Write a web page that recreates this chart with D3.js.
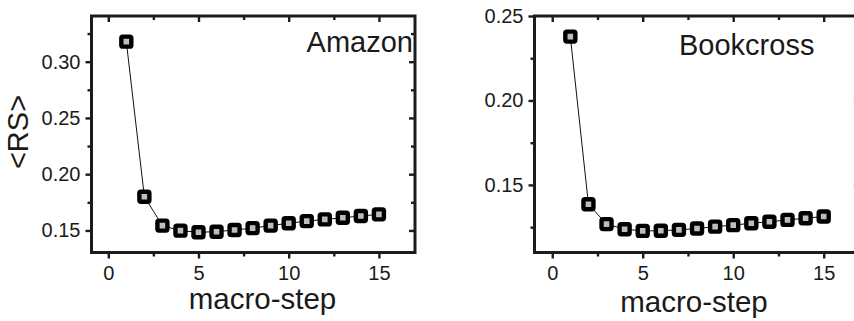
<!DOCTYPE html>
<html>
<head>
<meta charset="utf-8">
<script src="https://cdn.jsdelivr.net/npm/d3@7"></script>
<style>
  html, body { margin: 0; padding: 0; background: #fff; }
  svg { display: block; }
  text { font-family: "Liberation Sans", Arial, sans-serif; fill: #1a1a1a; }
</style>
</head>
<body>
<svg id="chart" width="854" height="321"></svg>
<script>
// macro-step index
const steps = [1, 2, 3, 4, 5, 6, 7, 8, 9, 10, 11, 12, 13, 14, 15];

// mean <RS> per macro-step
const amazonRS = [0.3178, 0.1800, 0.1543, 0.1498, 0.1484, 0.1489, 0.1504, 0.1521,
                  0.1543, 0.1564, 0.1583, 0.1598, 0.1613, 0.1628, 0.1643];
const bookcrossRS = [0.2378, 0.1386, 0.1268, 0.1238, 0.1228, 0.1229, 0.1234, 0.1242,
                     0.1253, 0.1262, 0.1273, 0.1282, 0.1293, 0.1303, 0.1313];

// tick values
const xMajor = [0, 5, 10, 15];
const xMinor = [2.5, 7.5, 12.5];
const amazonYMajor = [0.15, 0.20, 0.25, 0.30];
const amazonYMinor = [0.175, 0.225, 0.275, 0.325];
const bookYMajor = [0.15, 0.20, 0.25];
const bookYMinor = [0.125, 0.175, 0.225];

const svg = d3.select("#chart");
const ink = "#1c1c1c";
const fontStack = '"Liberation Sans", Arial, sans-serif';

function drawPanel(opt) {
  const x = d3.scaleLinear().domain(opt.xDomain).range([opt.left, opt.right]);
  const y = d3.scaleLinear().domain(opt.yDomain).range([opt.bottom, opt.top]);
  const g = svg.append("g");

  const styleAxis = (sel) => {
    sel.select(".domain").remove();
    sel.selectAll(".tick line").attr("stroke", ink).attr("stroke-width", 2.4);
  };
  const styleLabels = (sel) => {
    sel.attr("font-size", null).attr("font-family", null);
    sel.selectAll("text")
      .style("font-size", "20px").style("font-family", fontStack).attr("fill", ink);
  };

  // bottom axis with labels
  g.append("g").attr("transform", `translate(0,${opt.bottom})`)
    .call(d3.axisBottom(x).tickValues(xMajor).tickSize(6).tickFormat(d3.format("d")))
    .call(styleAxis)
    .call(styleLabels)
    .call(s => s.selectAll("text").attr("dy", 0).attr("y", 27.5));
  g.append("g").attr("transform", `translate(0,${opt.bottom})`)
    .call(d3.axisBottom(x).tickValues(xMinor).tickSize(4).tickFormat(""))
    .call(styleAxis);

  // top axis, ticks pointing inward
  g.append("g").attr("transform", `translate(0,${opt.top})`)
    .call(d3.axisBottom(x).tickValues(xMajor).tickSize(6).tickFormat(""))
    .call(styleAxis);
  g.append("g").attr("transform", `translate(0,${opt.top})`)
    .call(d3.axisBottom(x).tickValues(xMinor).tickSize(4).tickFormat(""))
    .call(styleAxis);

  // left axis with labels
  g.append("g").attr("transform", `translate(${opt.left},0)`)
    .call(d3.axisLeft(y).tickValues(opt.yMajor).tickSize(6).tickPadding(5).tickFormat(d3.format(".2f")))
    .call(styleAxis)
    .call(styleLabels);
  g.append("g").attr("transform", `translate(${opt.left},0)`)
    .call(d3.axisLeft(y).tickValues(opt.yMinor).tickSize(4).tickFormat(""))
    .call(styleAxis);

  // right axis, ticks pointing inward
  g.append("g").attr("transform", `translate(${opt.right},0)`)
    .call(d3.axisLeft(y).tickValues(opt.yMajor).tickSize(6).tickFormat(""))
    .call(styleAxis);
  g.append("g").attr("transform", `translate(${opt.right},0)`)
    .call(d3.axisLeft(y).tickValues(opt.yMinor).tickSize(4).tickFormat(""))
    .call(styleAxis);

  // frame
  g.append("rect")
    .attr("x", opt.left).attr("y", opt.top)
    .attr("width", opt.right - opt.left).attr("height", opt.bottom - opt.top)
    .attr("fill", "none").attr("stroke", ink).attr("stroke-width", 3);

  // connecting line
  const pts = steps.map((s, i) => [s, opt.values[i]]);
  g.append("path")
    .datum(pts)
    .attr("fill", "none").attr("stroke", "#111").attr("stroke-width", 1)
    .attr("d", d3.line().x(d => x(d[0])).y(d => y(d[1])));

  // square markers
  g.selectAll("rect.marker").data(pts).join("rect")
    .attr("class", "marker")
    .attr("x", d => x(d[0]) - 5).attr("y", d => y(d[1]) - 5)
    .attr("width", 10).attr("height", 10).attr("rx", 1.5)
    .attr("fill", "#bdbdbd").attr("stroke", "#000").attr("stroke-width", 4.4)
    .attr("stroke-linejoin", "round");

  // dataset name
  g.append("text")
    .attr("x", opt.nameX).attr("y", opt.nameY)
    .attr("text-anchor", opt.nameAnchor)
    .attr("font-size", 29)
    .text(opt.name);

  // x title
  g.append("text")
    .attr("x", opt.titleX).attr("y", opt.titleY)
    .attr("text-anchor", "middle")
    .attr("font-size", 29.5)
    .text("macro-step");
}

drawPanel({
  left: 91.5, right: 415, top: 16, bottom: 252.5,
  xDomain: [-0.93, 17], yDomain: [0.1304, 0.3406],
  yMajor: amazonYMajor, yMinor: amazonYMinor,
  values: amazonRS,
  name: "Amazon", nameX: 413, nameY: 52, nameAnchor: "end",
  titleX: 262.5, titleY: 309
});

drawPanel({
  left: 534.5, right: 859.9, top: 16, bottom: 252.5,
  xDomain: [-0.98, 17], yDomain: [0.11, 0.25],
  yMajor: bookYMajor, yMinor: bookYMinor,
  values: bookcrossRS,
  name: "Bookcross", nameX: 679, nameY: 55, nameAnchor: "start",
  titleX: 694, titleY: 312
});

// shared y title
svg.append("text")
  .attr("transform", "translate(28,132) rotate(-90)")
  .attr("text-anchor", "middle")
  .attr("font-size", 29)
  .text("<RS>");
</script>
</body>
</html>
